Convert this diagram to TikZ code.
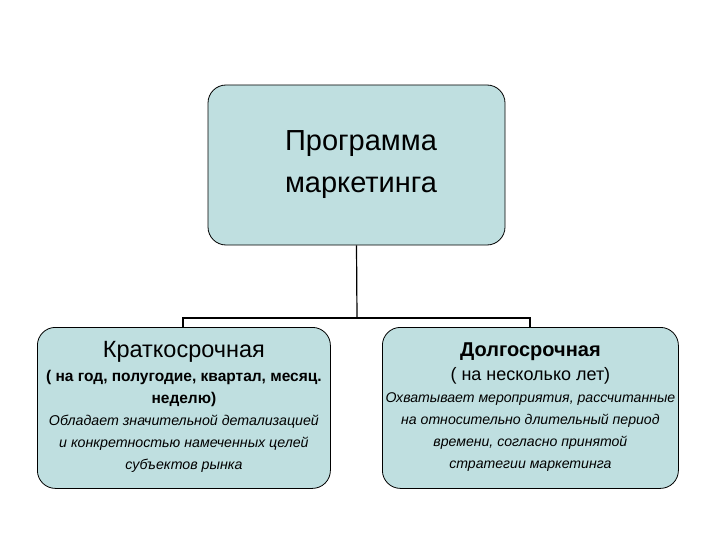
\documentclass[tikz,border=0pt]{standalone}
\usepackage{fontspec}
\setmainfont{Liberation Sans}
\definecolor{boxfill}{HTML}{BFDFE0}
\begin{document}
\begin{tikzpicture}[x=1pt,y=-1pt,
  box/.style={draw=black,fill=boxfill,rounded corners=18pt,line width=0.8pt,align=center,inner sep=0pt},
  conn/.style={line width=1.2pt}]
\useasboundingbox (0,0) rectangle (720,540);
\node[box,minimum width=297pt,minimum height=160pt] (top) at (356.5,165) {};
\node[align=center,font=\fontsize{29}{42}\selectfont] (tt) at (361,165)
  {Программа\\ маркетинга};
\node[box,minimum width=293pt,minimum height=161pt,anchor=north west] (l) at (37,327) {};
\node[box,minimum width=296pt,minimum height=161pt,anchor=north west] (r) at (382,327) {};
\node[align=center,font=\fontsize{14.2}{22}\selectfont] (lt) at ([yshift=1pt]l.center)
  {{\fontsize{23.5}{28}\selectfont Краткосрочная}\\[2pt]
   {\fontsize{15.5}{22}\selectfont\bfseries ( на год, полугодие, квартал, месяц.}\\
   {\fontsize{15.5}{22}\selectfont\bfseries неделю)}\\
   \itshape Обладает значительной детализацией\\
   \itshape и конкретностью намеченных целей\\
   \itshape субъектов рынка};
\node[align=center,font=\fontsize{14.1}{22}\selectfont] (rt) at ([yshift=1pt]r.center)
  {{\fontsize{20}{28}\selectfont\bfseries Долгосрочная}\\[2pt]
   {\fontsize{18}{22}\selectfont ( на несколько лет)}\\
   \itshape Охватывает мероприятия, рассчитанные\\
   \itshape на относительно длительный период\\
   \itshape времени, согласно принятой\\
   \itshape стратегии маркетинга};
\coordinate (j) at (357,318);
\draw[conn] (top.south) -- (j);
\draw[conn] (l.north -| 183,0) |- (j) -| (r.north -| 530,0);
\end{tikzpicture}
\end{document}
